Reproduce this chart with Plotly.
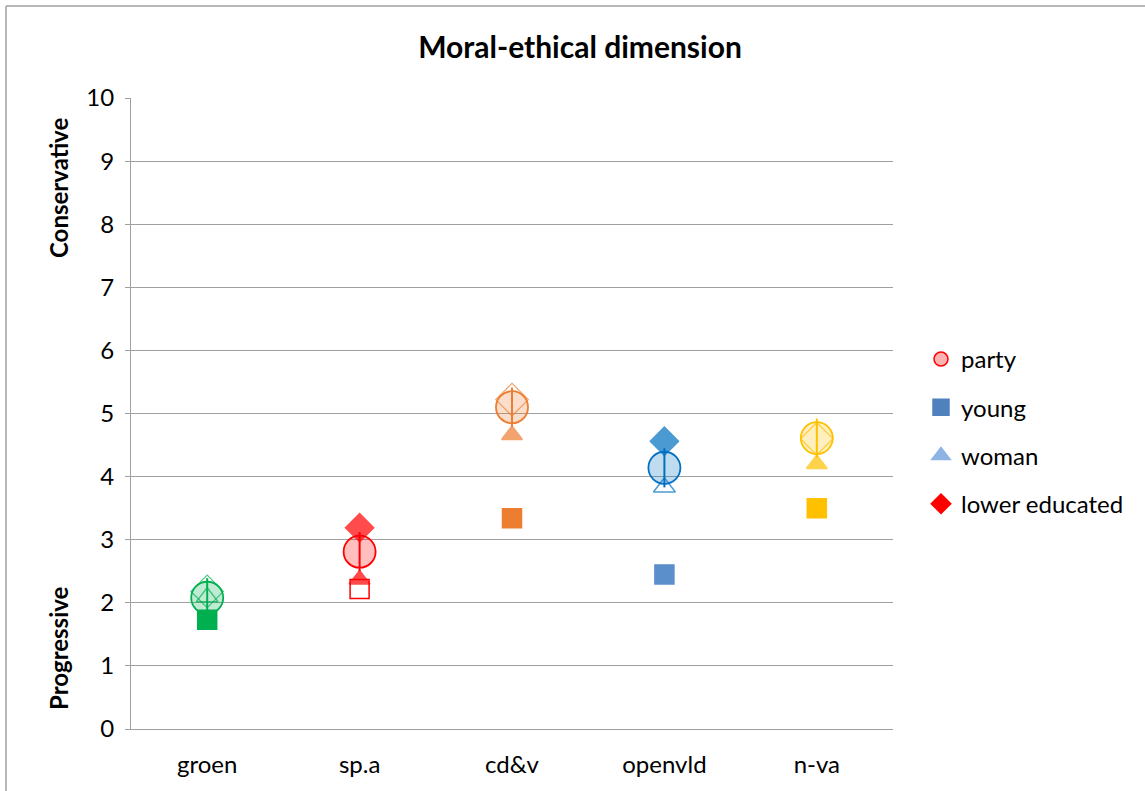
import plotly.graph_objects as go

categories = ["groen", "sp.a", "cd&v", "openvld", "n-va"]
party = [2.08, 2.81, 5.10, 4.14, 4.61]
young = [1.73, 2.22, 3.34, 2.45, 3.50]
woman = [2.09, 2.37, 4.66, 3.83, 4.20]
lower_educated = [2.18, 3.19, 5.22, 4.56, 4.60]
y_ticks = list(range(0, 11))

party_colors = ["#00B050", "#FF0000", "#ED7D31", "#0070C0", "#FFC000"]
young_colors = ["#00B050", "#FF0000", "#ED7D31", "#5B8FCB", "#FFC000"]
woman_open = [True, False, False, True, False]
young_open = [False, True, False, False, False]
lower_open = [True, False, True, False, True]

FONT = "Lato, 'Open Sans', sans-serif"


def rgba(hexc, a):
    h = hexc.lstrip("#")
    r, g, b = int(h[0:2], 16), int(h[2:4], 16), int(h[4:6], 16)
    return f"rgba({r},{g},{b},{a})"


fig = go.Figure()

# young (squares)
fig.add_trace(go.Scatter(
    x=categories, y=young, mode="markers", showlegend=False,
    marker=dict(symbol=["square-open" if o else "square" for o in young_open],
                size=19, color=young_colors,
                line=dict(width=1.5, color=young_colors)),
))
# woman (triangles)
fig.add_trace(go.Scatter(
    x=categories, y=woman, mode="markers", showlegend=False,
    marker=dict(symbol=["triangle-up-open" if o else "triangle-up" for o in woman_open],
                size=[19 if o else 18 for o in woman_open], color=party_colors,
                line=dict(width=1.5, color=party_colors)),
))
# lower educated (diamonds)
fig.add_trace(go.Scatter(
    x=categories, y=lower_educated, mode="markers", showlegend=False,
    marker=dict(symbol=["diamond-open" if o else "diamond" for o in lower_open],
                size=[25 if o else 22 for o in lower_open], color=party_colors,
                line=dict(width=1.2, color=party_colors)),
))
# party (striped circles approximated)
fig.add_trace(go.Scatter(
    x=categories, y=party, mode="markers", showlegend=False,
    marker=dict(symbol="circle", size=32,
                color=[rgba(c, 0.25) for c in party_colors],
                line=dict(width=1.8, color=party_colors)),
))
fig.add_trace(go.Scatter(
    x=categories, y=party, mode="markers", showlegend=False, hoverinfo="skip",
    marker=dict(symbol="line-ns", size=28,
                line=dict(width=2, color=party_colors)),
))

# legend entries
legend_items = [
    ("party", "circle", rgba("#FF0000", 0.3), "#FF0000", 14),
    ("young", "square", "#4F81BD", "#4F81BD", 16),
    ("woman", "triangle-up", "#8EB4E3", "#8EB4E3", 16),
    ("lower educated", "diamond", "#FF0000", "#FF0000", 15),
]
for i, (name, sym, fc, lc, sz) in enumerate(legend_items):
    fig.add_trace(go.Scatter(
        x=[None], y=[None], mode="markers", name=name, legendgroup=f"g{i}",
        marker=dict(symbol=sym, size=sz, color=fc, line=dict(width=1.5, color=lc)),
    ))

L, R, T, B = 131, 252, 98, 62
W, H = 1145, 791
pw, ph = W - L - R, H - T - B


def px(xp):
    return (xp - L) / pw


def py(yp):
    return (H - B - yp) / ph


fig.update_layout(
    width=W, height=H,
    margin=dict(l=L, r=R, t=T, b=B, autoexpand=False),
    paper_bgcolor="white", plot_bgcolor="white",
    font=dict(family=FONT, color="#000000", size=24),
    title=dict(text="<b>Moral-ethical dimension</b>", xref="container", x=580 / W,
               xanchor="center", yref="container", y=1 - 47 / H, yanchor="middle",
               font=dict(size=30, family=FONT)),
    showlegend=True,
    legend=dict(x=px(921), xanchor="left", y=py(337), yanchor="top",
                font=dict(size=24, family=FONT), tracegroupgap=14,
                itemwidth=30, bgcolor="rgba(0,0,0,0)"),
    xaxis=dict(type="category", categoryorder="array", categoryarray=categories,
               range=[-0.5, 4.5], showgrid=False, showline=True,
               linecolor="#A0A0A0", linewidth=1, ticks="", zeroline=False,
               tickfont=dict(size=24), ticklabelstandoff=14),
    yaxis=dict(range=[0, 10], tickvals=y_ticks, showgrid=True, gridcolor="#A0A0A0",
               gridwidth=1, showline=True, linecolor="#A0A0A0", linewidth=1,
               ticks="outside", ticklen=5, tickcolor="#A0A0A0", zeroline=False,
               tickfont=dict(size=24), ticklabelstandoff=6),
    annotations=[
        dict(text="<b>Conservative</b>", x=px(58), y=py(188), xref="paper", yref="paper",
             xanchor="center", yanchor="middle",
             textangle=-90, showarrow=False, font=dict(size=24, family=FONT)),
        dict(text="<b>Progressive</b>", x=px(58), y=py(648), xref="paper", yref="paper",
             xanchor="center", yanchor="middle",
             textangle=-90, showarrow=False, font=dict(size=24, family=FONT)),
    ],
    shapes=[
        dict(type="line", xref="paper", yref="paper", x0=px(6), x1=px(1150),
             y0=py(6), y1=py(6), line=dict(color="#A0A0A0", width=1.5)),
        dict(type="line", xref="paper", yref="paper", x0=px(6), x1=px(6),
             y0=py(6), y1=py(800), line=dict(color="#A0A0A0", width=1.5)),
    ],
)

fig.write_html("out.html", config={"displayModeBar": False},
               post_script="document.body.style.margin='0px';")
